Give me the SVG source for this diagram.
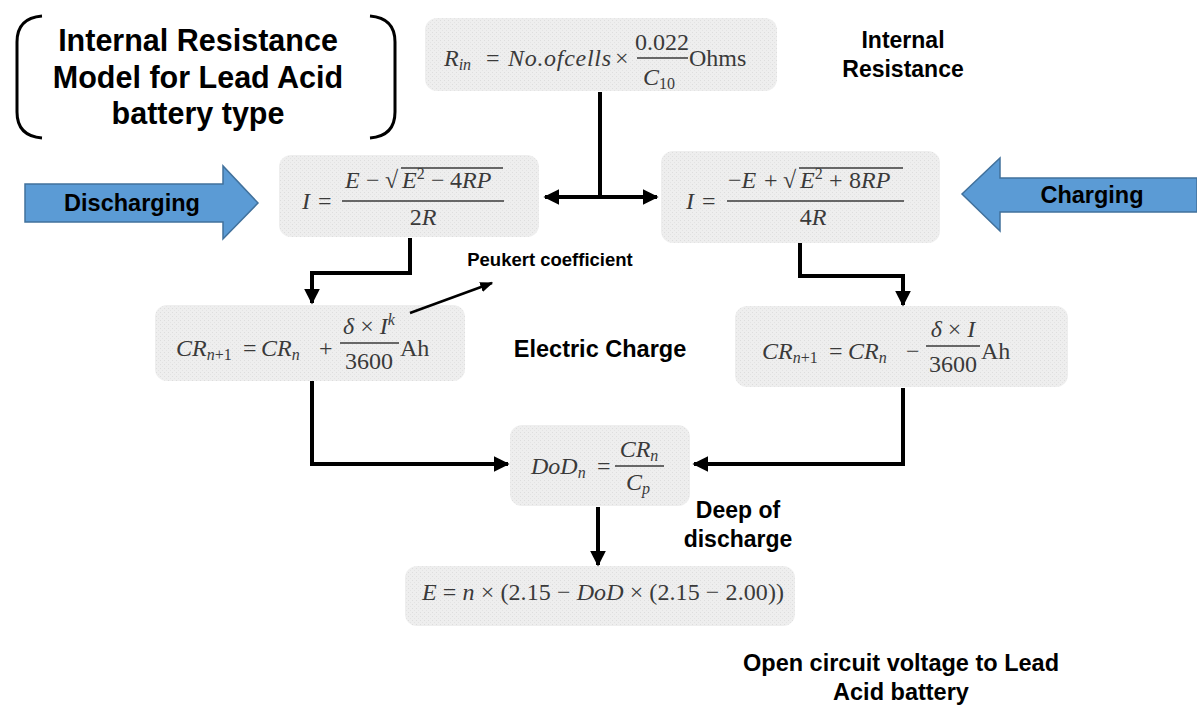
<svg xmlns="http://www.w3.org/2000/svg" width="1197" height="707" viewBox="0 0 1197 707">
<style>
.lbl{font-family:"Liberation Sans",Arial,sans-serif;font-weight:bold;fill:#000;text-anchor:middle}
.box{stroke:none}
.m{font-family:"Liberation Serif","Times New Roman",serif;font-size:24px;fill:#3a3a3a}
.i{font-style:italic}
.sub{font-size:16px}
.bar{stroke:#3a3a3a;stroke-width:1.3}
.con{fill:none;stroke:#000;stroke-width:4}
.barrow{fill:#5b9bd5;stroke:#41719c;stroke-width:1.5}
</style>
<defs>
<pattern id="tex" width="4" height="4" patternUnits="userSpaceOnUse">
<rect width="4" height="4" fill="#eeeeee"/>
<rect x="0" y="0" width="1" height="1" fill="#dddddd"/>
<rect x="2" y="2" width="1" height="1" fill="#e3e3e3"/>
</pattern>
<marker id="ah" viewBox="0 0 10 10" refX="9" refY="5" markerWidth="16" markerHeight="16" markerUnits="userSpaceOnUse" orient="auto">
<path d="M0,0 L10,5 L0,10 z" fill="#000"/>
</marker>
<marker id="ahs" viewBox="0 0 10 10" refX="9" refY="5" markerWidth="13" markerHeight="13" markerUnits="userSpaceOnUse" orient="auto">
<path d="M0,1 L10,5 L0,9 z" fill="#000"/>
</marker>
</defs>
<rect width="1197" height="707" fill="#fff"/>

<g id="title">
<path d="M42,16 Q17,18 17,42 L17,112 Q17,136 42,138" fill="none" stroke="#000" stroke-width="3"/>
<path d="M370,16 Q395,18 395,42 L395,112 Q395,136 370,138" fill="none" stroke="#000" stroke-width="3"/>
<text class="lbl" x="198" y="51" font-size="30.5">Internal Resistance</text>
<text class="lbl" x="198" y="88" font-size="30.5">Model for Lead Acid</text>
<text class="lbl" x="198" y="124" font-size="30.5">battery type</text>
</g>

<g id="discharging">
<path class="barrow" d="M25,184 L223,184 L223,166 L258,203 L223,239 L223,222 L25,222 Z"/>
<text class="lbl" x="132" y="211" font-size="23.5">Discharging</text>
</g>

<g id="charging">
<path class="barrow" d="M1197,178 L1000,178 L1000,158 L962,194 L1000,231 L1000,212 L1197,212 Z"/>
<text class="lbl" x="1092" y="203" font-size="23.5">Charging</text>
</g>

<g id="rin">
<rect class="box" x="425" y="18" width="352" height="73" rx="12" fill="url(#tex)"/>
<text class="m" y="66"><tspan class="i" x="444">R</tspan><tspan class="i sub" dy="4">in</tspan><tspan dy="-4" x="486">=</tspan><tspan class="i" x="508" textLength="103">No.ofcells</tspan><tspan x="615">×</tspan></text>
<text class="m" x="662" y="50" text-anchor="middle">0.022</text>
<line class="bar" x1="637" y1="58" x2="688" y2="58"/>
<text class="m" x="659" y="85" text-anchor="middle"><tspan class="i">C</tspan><tspan class="sub" dy="4">10</tspan></text>
<text class="m" x="689" y="66">Ohms</text>
</g>
<g id="lbl-rin">
<text class="lbl" x="903" y="48" font-size="23">Internal</text>
<text class="lbl" x="903" y="77" font-size="23">Resistance</text>
</g>

<g id="idis">
<rect class="box" x="279" y="155" width="260" height="82" rx="12" fill="url(#tex)"/>
<text class="m" y="209"><tspan class="i" x="302">I</tspan><tspan x="318">=</tspan></text>
<text class="m" y="188"><tspan class="i" x="345">E</tspan><tspan x="366">−</tspan><tspan x="385">√</tspan></text>
<line class="bar" x1="401" y1="168" x2="503" y2="168"/>
<text class="m" y="188"><tspan class="i" x="402">E</tspan><tspan class="sub" dy="-9">2</tspan><tspan dy="9" x="431">−</tspan><tspan x="450">4</tspan><tspan class="i">RP</tspan></text>
<line class="bar" x1="342" y1="201" x2="504" y2="201"/>
<text class="m" x="423" y="225" text-anchor="middle">2<tspan class="i">R</tspan></text>
</g>

<g id="ichg">
<rect class="box" x="661" y="151" width="279" height="92" rx="12" fill="url(#tex)"/>
<text class="m" y="209"><tspan class="i" x="686">I</tspan><tspan x="702">=</tspan></text>
<text class="m" y="188"><tspan x="728">−</tspan><tspan class="i">E</tspan><tspan x="764">+</tspan><tspan x="783">√</tspan></text>
<line class="bar" x1="799" y1="168" x2="903" y2="168"/>
<text class="m" y="188"><tspan class="i" x="800">E</tspan><tspan class="sub" dy="-9">2</tspan><tspan dy="9" x="829">+</tspan><tspan x="849">8</tspan><tspan class="i">RP</tspan></text>
<line class="bar" x1="727" y1="201" x2="904" y2="201"/>
<text class="m" x="813" y="225" text-anchor="middle">4<tspan class="i">R</tspan></text>
</g>

<g id="crdis">
<rect class="box" x="155" y="305" width="310" height="76" rx="12" fill="url(#tex)"/>
<text class="m" y="356"><tspan class="i" x="176">CR</tspan><tspan class="sub" dy="4"><tspan class="i">n</tspan>+1</tspan><tspan dy="-4" x="243">=</tspan><tspan class="i" x="261">CR</tspan><tspan class="i sub" dy="4">n</tspan><tspan dy="-4" x="319">+</tspan></text>
<text class="m" x="369" y="334" text-anchor="middle"><tspan class="i">δ</tspan> × <tspan class="i">I</tspan><tspan class="i sub" dy="-9">k</tspan></text>
<line class="bar" x1="340" y1="343" x2="399" y2="343"/>
<text class="m" x="369" y="369" text-anchor="middle">3600</text>
<text class="m" x="400" y="356">Ah</text>
</g>
<text class="lbl" x="550" y="266" font-size="18.5">Peukert coefficient</text>
<text class="lbl" x="600" y="357" font-size="23.5">Electric Charge</text>

<g id="crchg">
<rect class="box" x="735" y="306" width="333" height="81" rx="12" fill="url(#tex)"/>
<text class="m" y="359"><tspan class="i" x="762">CR</tspan><tspan class="sub" dy="4"><tspan class="i">n</tspan>+1</tspan><tspan dy="-4" x="829">=</tspan><tspan class="i" x="848">CR</tspan><tspan class="i sub" dy="4">n</tspan><tspan dy="-4" x="906">−</tspan></text>
<text class="m" x="953" y="337" text-anchor="middle"><tspan class="i">δ</tspan> × <tspan class="i">I</tspan></text>
<line class="bar" x1="926" y1="346" x2="980" y2="346"/>
<text class="m" x="953" y="372" text-anchor="middle">3600</text>
<text class="m" x="981" y="359">Ah</text>
</g>

<g id="dod">
<rect class="box" x="510" y="425" width="180" height="81" rx="12" fill="url(#tex)"/>
<text class="m" y="474"><tspan class="i" x="531">DoD</tspan><tspan class="i sub" dy="4">n</tspan><tspan dy="-4" x="597">=</tspan></text>
<text class="m" x="639" y="457" text-anchor="middle"><tspan class="i">CR</tspan><tspan class="i sub" dy="4">n</tspan></text>
<line class="bar" x1="615" y1="466" x2="664" y2="466"/>
<text class="m" x="638" y="490" text-anchor="middle"><tspan class="i">C</tspan><tspan class="i sub" dy="4">p</tspan></text>
</g>
<g id="lbl-dod">
<text class="lbl" x="738" y="518" font-size="23">Deep of</text>
<text class="lbl" x="738" y="547" font-size="23">discharge</text>
</g>

<g id="ocv">
<rect class="box" x="405" y="566" width="390" height="60" rx="12" fill="url(#tex)"/>
<text class="m" x="422" y="600" textLength="362"><tspan class="i">E</tspan> = <tspan class="i">n</tspan> × (2.15 − <tspan class="i">DoD</tspan> × (2.15 − 2.00))</text>
</g>
<g id="lbl-ocv">
<text class="lbl" x="901" y="671" font-size="23.5">Open circuit voltage to Lead</text>
<text class="lbl" x="901" y="700" font-size="23.5">Acid battery</text>
</g>

<g id="connectors">
<path class="con" d="M600,92 V197"/>
<path class="con" d="M602,197 H545" marker-end="url(#ah)"/>
<path class="con" d="M598,197 H657" marker-end="url(#ah)"/>
<path class="con" d="M410,238 V273 H312 V303" marker-end="url(#ah)"/>
<path class="con" d="M800,243 V276 H903 V305" marker-end="url(#ah)"/>
<path class="con" d="M312,381 V464 H508" marker-end="url(#ah)"/>
<path class="con" d="M903,388 V464 H694" marker-end="url(#ah)"/>
<path class="con" d="M598,507 V565" marker-end="url(#ah)"/>
<path d="M410,313 L492,283" fill="none" stroke="#000" stroke-width="2.5" marker-end="url(#ahs)"/>
</g>
</svg>
